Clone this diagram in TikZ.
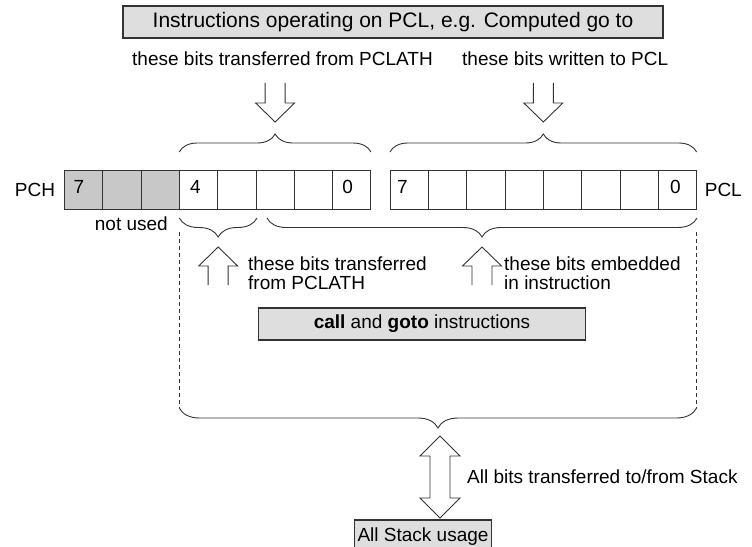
\documentclass[tikz,border=0pt]{standalone}
\usepackage{fontspec}
\setmainfont{Liberation Sans}
\usetikzlibrary{decorations.pathreplacing,calc}
\definecolor{boxfill}{HTML}{DEDEDE}
\definecolor{cellgray}{HTML}{C8C8C8}
\definecolor{ink}{HTML}{333333}
\begin{document}
\begin{tikzpicture}[x=1bp,y=-1bp,
  ln/.style={draw=ink, line width=0.9bp},
  cell/.style={ln, minimum width=38.33bp, minimum height=39bp, inner sep=0pt, outer sep=0pt},
  gcell/.style={cell, fill=cellgray},
  lbl/.style={font=\fontsize{19bp}{21bp}\selectfont, inner sep=0pt, text=black},
  toplbl/.style={font=\fontsize{21bp}{24bp}\selectfont, inner sep=0pt},
  tbox/.style={ln, fill=boxfill, line width=1.1bp, minimum height=32bp},
  brc/.style={ln, decorate},
  dline/.style={draw=ink, line width=1.3bp, dash pattern=on 4bp off 3bp},
  arr/.style={ln, fill=white, line join=miter},
  darr/.pic={\draw[arr] (-10,-39) -- (-10,-19) -- (-19.5,-19) -- (0,0) -- (19.5,-19) -- (10,-19) -- (10,-39);},
  uarr/.pic={\draw[arr] (-10,38) -- (-10,19) -- (-19.5,19) -- (0,0) -- (19.5,19) -- (10,19) -- (10,38);},
  dblarr/.pic={\draw[arr] (0,0) -- (20,20) -- (10,20) -- (10,62) -- (20,62) -- (0,82) -- (-20,62) -- (-10,62) -- (-10,20) -- (-20,20) -- cycle;}
]
\useasboundingbox (0,0) rectangle (752,547);
\begin{scope}
\clip (0,0) rectangle (752,547);

% top box
\node[tbox, toplbl, minimum width=540bp] (top) at (393,22) {Instructions operating on PCL, e.g. Computed go to};
\node[lbl, anchor=west] (t1) at (132,59) {these bits transferred from PCLATH};
\node[lbl, anchor=west] (t2) at (462,59) {these bits written to PCL};

% register cells
\foreach \b in {7,6,5} \node[gcell] (h\b) at ({83.465+(7-\b)*38.33},189.5) {};
\foreach \b in {4,...,0} \node[cell] (h\b) at ({83.465+(7-\b)*38.33},189.5) {};
\foreach \b in {7,...,0} \node[cell] (l\b) at ({409.165+(7-\b)*38.33},189.5) {};

\node[lbl] (n7) at ($(h7.west)+(14.5,-3)$) {7};
\node[lbl] (n4) at ($(h4.west)+(16,-3)$) {4};
\node[lbl] (n0) at ($(h0.west)+(15,-3)$) {0};
\node[lbl] (m7) at ($(l7.west)+(12.5,-3)$) {7};
\node[lbl] (m0) at ($(l0.west)+(17,-3)$) {0};

\node[lbl, anchor=east] (pch) at ($(h7.west)+(-9,0)$) {PCH};
\node[lbl, anchor=west] (pcl) at ($(l0.east)+(8,0)$) {PCL};
\node[lbl, anchor=east] (nu) at (168,224) {not used};

% upper braces
\coordinate (ua1) at ($(h4.north west)+(0,-18)$);
\coordinate (ub1) at ($(h0.north east)+(0,-18)$);
\coordinate (ua2) at ($(l7.north west)+(0,-18)$);
\coordinate (ub2) at ($(l0.north east)+(0,-18)$);
\draw[brc, decoration={brace, amplitude=18bp}] (ua1) -- (ub1);
\draw[brc, decoration={brace, amplitude=18bp}] (ua2) -- (ub2);
\coordinate (dt1) at ($(ua1)!0.5!(ub1)+(0,-30)$);
\coordinate (dt2) at ($(ua2)!0.5!(ub2)+(0,-30)$);
\pic at (dt1) {darr};
\pic at (dt2) {darr};

% lower braces
\coordinate (la1) at (257,218);
\coordinate (lb1) at (179.3,218);
\coordinate (la2) at (697,218);
\coordinate (lb2) at (267,218);
\draw[brc, decoration={brace, amplitude=19bp}] (la1) -- (lb1);
\draw[brc, decoration={brace, amplitude=19bp}] (la2) -- (lb2);
\coordinate (ut1) at ($(la1)!0.5!(lb1)+(0,29)$);
\coordinate (ut2) at ($(la2)!0.5!(lb2)+(0,29)$);
\pic at (ut1) {uarr};
\pic at (ut2) {uarr};

\node[lbl, anchor=west, align=left] (t3) at (248,273) {these bits transferred\\[-1.5bp]from PCLATH};
\node[lbl, anchor=west, align=left] (t4) at (504,273) {these bits embedded\\[-1.5bp]in instruction};

\node[tbox, lbl, minimum width=327bp] (call) at (422,324) {\textbf{call} and \textbf{goto} instructions};

% dashed sides
\coordinate (d1a) at (179.3,232);
\coordinate (d1b) at (179.3,408);
\coordinate (d2a) at (696.6,232);
\coordinate (d2b) at (696.6,408);
\draw[dline] (d1a) -- (d1b);
\draw[dline] (d2a) -- (d2b);

% big brace
\draw[brc, decoration={brace, amplitude=20bp}] (d2b) -- (d1b);
\coordinate (bt) at ($(d1b)!0.5!(d2b)+(2,28)$);
\pic at (bt) {dblarr};
\node[lbl, anchor=west] (t5) at (467,477) {All bits transferred to/from Stack};

\node[tbox, lbl, inner xsep=3bp, minimum height=34bp] (stack) at (423,537) {All Stack usage};
\end{scope}
\end{tikzpicture}
\end{document}
